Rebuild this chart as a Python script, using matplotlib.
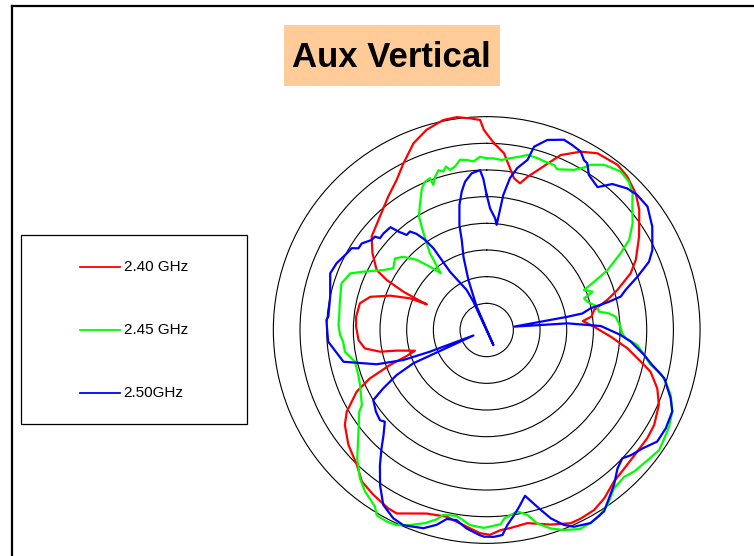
import numpy as np
import matplotlib
matplotlib.use("Agg")
import matplotlib.pyplot as plt
from matplotlib.lines import Line2D
from matplotlib.patches import Rectangle

plt.rcParams['font.family'] = ['Liberation Sans', 'DejaVu Sans']

# radial scale: centre = -40 dB, one ring every 5 dB
R_MIN = -40
R_MAX = 2
RINGS = [-35, -30, -25, -20, -15, -10, -5, 0]

title = 'Aux Vertical'
labels = ['2.40 GHz', '2.45 GHz', '2.50GHz']
colors = ['#ff0000', '#00ff00', '#0000ff']

# angle in degrees (0 = top, clockwise), level in dB
ang_240 = [2.3, 5.6, 10.2, 12.8, 14.9, 18.5, 22.9, 27.8, 32.1, 38.4, 42.5, 47.5,
           51.8, 58.5, 64.8, 68.5, 73.0, 76.0, 79.4, 82.7, 84.7, 88.2, 93.1, 97.4,
           101.6, 104.3, 108.9, 113.5, 119.6, 124.0, 129.6, 135.2, 140.0, 145.1,
           149.2, 153.5, 156.5, 161.8, 168.1, 173.3, 176.0, 179.1, 181.9, 184.8,
           188.9, 192.1, 198.1, 206.1, 208.9, 214.5, 219.5, 223.9, 230.3, 236.2,
           239.7, 244.6, 247.5, 250.1, 252.0, 253.9, 257.1, 258.5, 261.4, 265.5,
           271.5, 275.8, 281.9, 285.9, 289.6, 292.4, 293.2, 293.7, 294.7, 296.6,
           298.6, 303.9, 309.1, 316.7, 323.6, 329.0, 333.4, 338.6, 343.3, 348.3,
           352.0, 355.5, 358.2, 359.2]
db_240 = [-5.0, -6.7, -11.1, -11.8, -10.3, -8.0, -4.4, -2.2, -0.9, -0.5, -1.0, -2.1,
          -3.6, -6.5, -9.1, -11.0, -14.4, -16.7, -19.5, -20.2, -21.9, -19.9, -16.7, -13.4,
          -10.5, -8.3, -6.2, -4.8, -3.9, -3.7, -3.7, -3.4, -2.9, -1.5,
          -0.7, -0.5, -0.5, -1.6, -3.0, -2.6, -2.4, -1.6, -1.9, -2.7,
          -3.6, -4.2, -3.8, -1.7, -1.8, -2.5, -3.2, -4.9, -6.3, -8.0,
          -9.6, -13.0, -16.3, -20.7, -24.2, -26.0, -22.7, -19.6, -16.9, -15.9,
          -15.5, -15.4, -15.7, -17.3, -20.8, -24.4, -27.8, -26.0, -22.8, -19.0,
          -16.5, -14.2, -12.2, -10.8, -8.9, -7.2, -5.1, -2.4, -0.8, 0.2,
          0.3, -0.2, -0.6, -2.5]

ang_245 = [0.0, 2.2, 5.0, 7.7, 10.9, 13.1, 16.4, 19.3, 22.2, 23.7, 28.6, 30.9, 32.2,
           35.4, 40.2, 43.8, 46.8, 49.7, 53.8, 57.7, 60.2, 63.6, 65.8, 67.7, 70.1,
           72.0, 74.3, 78.1, 80.7, 82.2, 84.1, 88.6, 91.4, 93.4, 95.7, 99.0, 102.0,
           104.0, 106.1, 109.5, 113.7, 117.9, 121.4, 124.9, 129.0, 133.9, 136.9,
           141.2, 145.4, 149.0, 151.9, 154.9, 158.9, 162.1, 165.3, 167.6, 170.4,
           174.7, 175.9, 180.8, 181.9, 184.9, 189.2, 193.2, 194.8, 197.7, 201.5,
           204.8, 207.6, 210.7, 212.3, 217.0, 220.5, 225.2, 230.7, 237.3, 239.0,
           246.5, 250.7, 256.5, 261.3, 265.3, 268.0, 271.9, 276.5, 280.3, 287.8,
           292.5, 295.3, 300.1, 303.5, 308.0, 311.3, 315.0, 318.2, 321.0, 323.5,
           326.1, 327.8, 329.2, 331.9, 335.4, 337.4, 339.5, 339.8, 341.4, 343.2,
           344.7, 346.0, 347.1, 349.0, 351.1, 353.3, 355.5, 357.8]
db_245 = [-7.8, -7.8, -8.0, -7.5, -6.9, -6.3, -6.4, -6.6, -6.6, -7.1, -5.8, -4.5, -3.4,
          -2.0, -1.1, -1.5, -2.5, -4.2, -6.1, -8.4, -11.1, -14.7, -17.9, -20.3, -18.9,
          -20.8, -20.4, -18.8, -18.7, -16.9, -15.7, -14.9, -14.6, -13.9, -11.6, -10.1, -8.6,
          -6.4, -5.1, -3.4, -2.0, -1.3, -1.0, -0.6, -1.2, -1.7, -2.3,
          -1.9, -0.1, 0.8, 1.1, 1.2, 0.2, -0.9, -2.5, -4.5, -5.5,
          -4.5, -3.5, -2.9, -3.0, -3.3, -4.7, -4.4, -3.3, -2.0, -0.7,
          0.3, 0.5, 0.4, -0.8, -2.1, -3.4, -5.8, -8.9, -11.6, -12.7,
          -14.1, -14.5, -14.6, -13.1, -13.0, -12.5, -12.2, -12.2, -12.0, -11.4,
          -12.3, -14.4, -17.6, -19.0, -18.2, -19.2, -21.4, -24.1, -26.3, -22.1,
          -19.3, -17.1, -15.2, -13.4, -10.8, -9.9, -9.6, -11.0, -9.7, -8.7,
          -9.2, -8.4, -9.2, -8.8, -7.7, -7.9, -8.3, -7.5]

ang_250 = [0.0, 1.6, 4.3, 5.4, 7.0, 8.7, 10.7, 13.5, 14.5, 17.7, 22.1, 24.8, 27.8,
           29.8, 31.1, 33.4, 37.8, 40.7, 44.8, 48.1, 52.5, 58.0, 64.2, 67.2, 70.5,
           73.9, 76.0, 77.0, 78.2, 80.2, 80.7, 83.0, 85.3, 88.0, 92.1, 94.6, 99.0,
           101.5, 105.2, 110.4, 113.7, 118.8, 123.2, 127.2, 131.0, 133.4, 136.6,
           140.6, 144.0, 147.1, 151.7, 156.1, 158.4, 161.2, 163.6, 167.0, 169.6,
           171.6, 174.0, 175.6, 178.0, 180.7, 181.9, 185.8, 189.0, 191.9, 194.4,
           197.7, 203.1, 206.4, 210.6, 214.5, 218.3, 221.6, 224.5, 228.0, 229.8,
           233.6, 238.3, 240.6, 243.4, 245.6, 247.5, 249.1, 250.2, 252.7, 257.5,
           265.8, 271.8, 273.6, 274.8, 282.0, 289.9, 294.0, 298.7, 301.2, 302.5,
           304.7, 308.0, 309.9, 310.7, 313.1, 316.9, 318.1, 319.9, 322.1, 323.9,
           325.6, 326.9, 327.8, 333.4, 334.8, 336.0, 336.8, 339.9, 342.4, 344.5,
           345.4, 347.7, 349.8, 351.7, 354.5, 357.6, 358.7]
db_250 = [-14.7, -17.2, -19.0, -20.2, -14.5, -11.2, -9.1, -7.2, -4.5, -2.6, -1.5, -1.8, -2.2,
          -3.3, -3.5, -5.2, -6.1, -3.9, -2.6, -2.1, -2.0, -3.4, -5.5, -7.0, -10.0,
          -12.9, -14.1, -16.5, -20.1, -21.8, -24.7, -34.8, -24.8, -18.6, -14.9, -12.9, -10.1,
          -8.6, -5.5, -3.2, -2.0, -1.7, -1.8, -3.3, -4.2, -5.0, -4.3,
          -2.4, -1.0, 0.5, 1.1, 0.35, -0.7, -2.7, -5.1, -8.1, -6.3,
          -4.9, -3.2, -1.45, -1.2, -1.25, -1.5, -2.6, -3.9, -3.8, -2.3,
          -1.0, -0.2, -0.6, -1.9, -4.7, -7.7, -10.3, -12.4, -14.3, -13.8,
          -14.2, -15.0, -17.75, -21.1, -24.9, -37.3, -28.6, -23.4, -18.4, -12.5,
          -10.2, -10.0, -9.9, -10.2, -10.0, -8.8, -9.2, -10.1, -10.4, -11.5,
          -11.5, -12.6, -12.7, -13.6, -13.5, -13.6, -15.2, -16.7, -16.6, -17.7,
          -19.5, -21.7, -27.1, -31.6, -34.1, -43.1, -35.2, -30.0, -25.6, -22.5,
          -19.7, -16.0, -13.6, -11.9, -10.5, -10.0, -11.6]


def fold(ang, db):
    # close the loop; levels below the centre value go through the
    # origin to the opposite side, like the original plotting tool did
    ang = np.array(ang + ang[:1], dtype=float)
    db = np.array(db + db[:1], dtype=float)
    low = db < R_MIN
    ang[low] += 180
    db[low] = 2 * R_MIN - db[low]
    return np.radians(ang), db


W, H = 754, 556
fig = plt.figure(figsize=(W / 100, H / 100), dpi=100)

# polar area: centre at (486.7, 330) px, 26.67 px per ring
cx, cy = 486.7, 330
px_per_db = 26.67 / 5
rad = (R_MAX - R_MIN) * px_per_db
ax = fig.add_axes([(cx - rad) / W, (H - cy - rad) / H, 2 * rad / W, 2 * rad / H],
                  projection='polar')
ax.set_theta_zero_location('N')
ax.set_theta_direction(-1)
ax.set_rlim(R_MIN, R_MAX)
ax.set_yticks(RINGS)
ax.set_yticklabels([])
ax.set_xticks([])
ax.tick_params(axis='both', length=0)
ax.spines['polar'].set_visible(False)
ax.yaxis.grid(True, color='black', lw=0.8, ls='-')
ax.patch.set_visible(False)

series = [(ang_240, db_240), (ang_245, db_245), (ang_250, db_250)]
for (a, d), c, lab in zip(series, colors, labels):
    t, r = fold(a, d)
    ax.plot(t, r, color=c, lw=1.6, label=lab, zorder=3)

# page frame (only top and left edges are inside the picture)
fig.add_artist(Line2D([12 / W, 1], [1 - 6 / H, 1 - 6 / H], color='black', lw=1.6))
fig.add_artist(Line2D([12 / W, 12 / W], [0, 1 - 6 / H], color='black', lw=1.6))

# title box
fig.add_artist(Rectangle((284 / W, 1 - 85.7 / H), 216 / W, 60.7 / H,
                         transform=fig.transFigure, facecolor='#ffcc99',
                         edgecolor='none'))
fig.text(391 / W, 1 - 57.5 / H, title, fontsize=25, fontweight='bold',
         ha='center', va='center')

# legend box
fig.add_artist(Rectangle((20.7 / W, 1 - 424.3 / H), 226.6 / W, 189.3 / H,
                         transform=fig.transFigure, facecolor='white',
                         edgecolor='black', lw=0.9))
for i, (c, lab) in enumerate(zip(colors, labels)):
    y = 1 - (266.7 + 63.3 * i) / H
    fig.add_artist(Line2D([80 / W, 120 / W], [y, y], color=c, lw=1.3))
    fig.text(123.5 / W, y, lab, fontsize=11, ha='left', va='center')

fig.savefig('out.png', dpi=100)
